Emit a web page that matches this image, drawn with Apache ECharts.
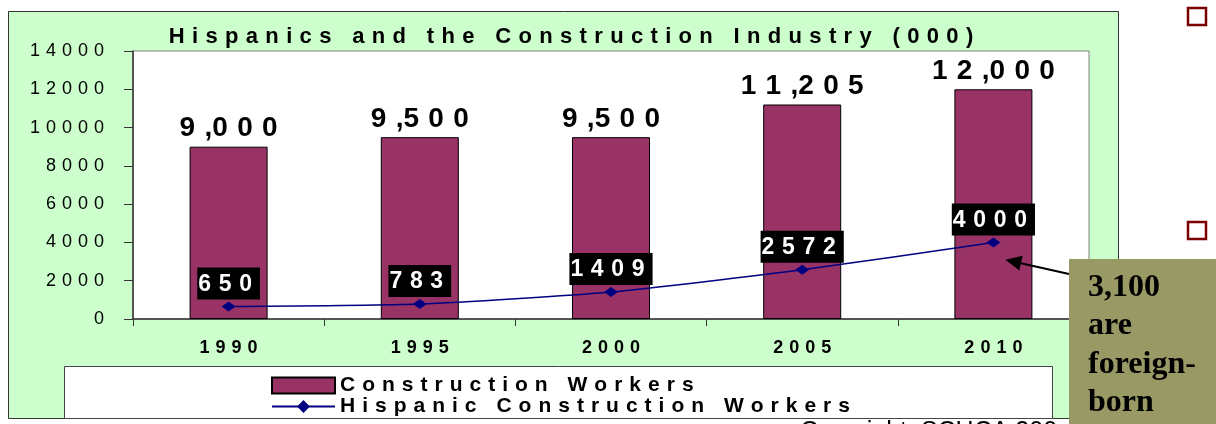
<!DOCTYPE html>
<html>
<head>
<meta charset="utf-8">
<script src="https://cdn.jsdelivr.net/npm/echarts@6/dist/echarts.min.js"></script>
<style>
  html, body { margin: 0; padding: 0; background: #fff; }
  #chart { width: 1216px; height: 424px; }
</style>
</head>
<body>
<div id="chart"></div>
<script>
// ---- data ----
const years = ['1990', '1995', '2000', '2005', '2010'];
const constructionWorkers = [9000, 9500, 9500, 11205, 12000];
const hispanicWorkers = [650, 783, 1409, 2572, 4000];
const seriesNames = ['Construction Workers', 'Hispanic Construction Workers'];
const titleText = 'Hispanics and the Construction Industry (000)';
const calloutLines = ['3,100', 'are', 'foreign-', 'born'];
const calloutValue = 3100;
const calloutYear = '2010';
const copyrightText = 'Copyright, SCHCA 200';
const yMin = 0, yMax = 14000, yStep = 2000;

// ---- helpers ----
const SANS = '"Liberation Sans", Arial, sans-serif';
const SERIF = '"Liberation Serif", "Times New Roman", serif';
function spaced(s) { return Array.from(String(s)).join('\u2004'); }
function spacedNum(s) { return spaced(s).replace(/,\u2004/g, ','); }
function withComma(v) { return Number(v).toLocaleString('en-US'); }

const chart = echarts.init(document.getElementById('chart'), null, { renderer: 'canvas' });

const legendText = { fontFamily: SANS, fontSize: 21, fontWeight: 'bold', color: '#000' };

const option = {
  animation: false,
  textStyle: { fontFamily: SANS },
  title: {
    text: spaced(titleText),
    left: 566, top: 21, textAlign: 'center',
    textStyle: { fontFamily: SANS, fontSize: 22, fontWeight: 'bold', color: '#000' }
  },
  grid: {
    left: 133, right: 127, top: 51, bottom: 105,
    show: true, backgroundColor: '#ffffff', borderColor: '#808080', borderWidth: 1
  },
  legend: [
    {
      data: [{ name: seriesNames[0], icon: 'rect' }],
      left: 271, top: 375, itemWidth: 63, itemHeight: 16, padding: 0,
      formatter: (n) => spaced(n), textStyle: legendText
    },
    {
      data: [{ name: seriesNames[1] }],
      left: 271, top: 396, itemWidth: 63, itemHeight: 16, padding: 0,
      formatter: (n) => spaced(n), textStyle: legendText
    }
  ],
  xAxis: {
    type: 'category', data: years,
    axisLine: { lineStyle: { color: '#333', width: 1.5 } },
    axisTick: { show: true, length: 7, lineStyle: { color: '#333' } },
    axisLabel: { fontFamily: SANS, fontSize: 18, fontWeight: 'bold', color: '#000', margin: 20, formatter: (v) => spaced(v) }
  },
  yAxis: {
    type: 'value', min: yMin, max: yMax, interval: yStep,
    splitLine: { show: false },
    axisLine: { show: true, lineStyle: { color: '#333', width: 1.5 } },
    axisTick: { show: true, length: 9, lineStyle: { color: '#333' } },
    axisLabel: { fontFamily: SANS, fontSize: 18, color: '#000', margin: 29, formatter: (v) => spaced(v) }
  },
  series: [
    {
      name: seriesNames[0], type: 'bar', data: constructionWorkers, barWidth: 78, z: 2,
      itemStyle: { color: '#993366', borderColor: '#000', borderWidth: 1 },
      label: {
        show: true, position: 'top', distance: 4,
        fontFamily: SANS, fontSize: 28, fontWeight: 'bold', color: '#000',
        formatter: (p) => spacedNum(withComma(p.value))
      }
    },
    {
      name: seriesNames[1], type: 'line', data: hispanicWorkers, z: 5,
      smooth: 0.2,
      symbol: 'diamond', symbolSize: [14, 10],
      itemStyle: { color: '#000080' },
      lineStyle: { color: '#000080', width: 1.5 },
      label: {
        show: true, position: 'top', distance: 2,
        fontFamily: SANS, fontSize: 23, fontWeight: 'bold', color: '#fff',
        backgroundColor: '#000', padding: [4, 8, 2, 1], lineHeight: 26,
        formatter: (p) => spaced(p.value)
      }
    }
  ]
};
chart.setOption(option);

// ---- annotation: callout box, arrow pointing at 3,100 on the 2010 bar, bullets ----
const target = chart.convertToPixel({ xAxisIndex: 0, yAxisIndex: 0 }, [calloutYear, calloutValue]);
const tip = [target[0] + 12, target[1]];
const start = [1069, 274];
const dx = start[0] - tip[0], dy = start[1] - tip[1];
const len = Math.sqrt(dx * dx + dy * dy);
const ux = dx / len, uy = dy / len;
const headLen = 16, headHalf = 7.5;
const base = [tip[0] + ux * headLen, tip[1] + uy * headLen];
const head = [tip, [base[0] - uy * headHalf, base[1] + ux * headHalf], [base[0] + uy * headHalf, base[1] - ux * headHalf]];

chart.setOption({
  graphic: [
    { type: 'rect', z: -10, shape: { x: 8.5, y: 11.5, width: 1110, height: 407 },
      style: { fill: '#CCFFCC', stroke: '#333', lineWidth: 1 } },
    { type: 'rect', z: -9, shape: { x: 64.5, y: 366.5, width: 988, height: 52 },
      style: { fill: '#ffffff', stroke: '#444', lineWidth: 1 } },
    { type: 'text', z: -8, x: 800, y: 420,
      style: { text: copyrightText, fontFamily: SANS, fontSize: 25, fontWeight: 'normal', fill: '#000', align: 'left', verticalAlign: 'top' } },
    { type: 'rect', z: 50, shape: { x: 1069, y: 259, width: 160, height: 170 }, style: { fill: '#999966' } },
    { type: 'text', z: 51, x: 1088, y: 268,
      style: { text: calloutLines.join('\n'), fontFamily: SERIF, fontSize: 32, fontWeight: 'bold', fill: '#000', lineHeight: 38.5, align: 'left', verticalAlign: 'top' } },
    { type: 'line', z: 52, shape: { x1: start[0], y1: start[1], x2: base[0], y2: base[1] }, style: { stroke: '#000', lineWidth: 2 } },
    { type: 'polygon', z: 52, shape: { points: head }, style: { fill: '#000' } },
    { type: 'rect', z: 50, shape: { x: 1188, y: 8, width: 18, height: 17 }, style: { fill: 'none', stroke: '#7a0000', lineWidth: 2.5 } },
    { type: 'rect', z: 50, shape: { x: 1188, y: 222, width: 18, height: 17 }, style: { fill: 'none', stroke: '#7a0000', lineWidth: 2.5 } }
  ]
});
</script>
</body>
</html>
